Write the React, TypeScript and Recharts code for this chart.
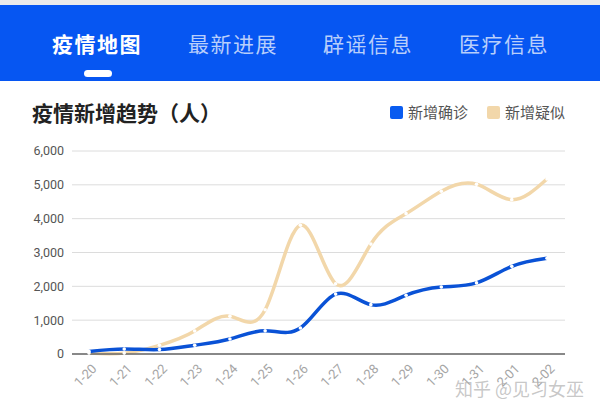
import { LineChart, Line, XAxis, YAxis, CartesianGrid } from "recharts";

const dates = ["1-20", "1-21", "1-22", "1-23", "1-24", "1-25", "1-26", "1-27", "1-28", "1-29", "1-30", "1-31", "2-01", "2-02"];
const confirmed = [77, 149, 131, 259, 444, 688, 769, 1771, 1459, 1737, 1982, 2102, 2590, 2829];
const suspected = [27, 26, 257, 680, 1118, 1309, 3806, 2077, 3248, 4148, 4812, 5019, 4562, 5173];
const yTicks = [0, 1000, 2000, 3000, 4000, 5000, 6000];
const tabs = ["疫情地图", "最新进展", "辟谣信息", "医疗信息"];

const BLUE = "#0a52d6";
const BEIGE = "#f2d7aa";
const FONT = 'Roboto, "Noto Sans CJK SC", sans-serif';
const CJK = '"Noto Sans CJK SC", sans-serif';

const data = dates.map((d, i) => ({ date: d, confirmed: confirmed[i], suspected: suspected[i] }));

// rotated date labels, ending just right of the tick
function DateTick({ x, y, payload }: any) {
  return (
    <g transform={`translate(${x + 5},${y + 4})`}>
      <text textAnchor="end" fill="#a5a5a5" fontSize={13} fontFamily={FONT} transform="rotate(-45)" dy={5}>
        {payload.value}
      </text>
    </g>
  );
}

export default function App() {
  const tabX = [52, 188, 323, 459];
  return (
    <div style={{ position: "absolute", left: 0, top: 0, width: 600, height: 420, background: "#fff", overflow: "hidden", fontFamily: FONT }}>
      <div style={{ position: "absolute", left: 0, top: 0, width: 600, height: 5, background: "#ebebeb" }} />
      <div style={{ position: "absolute", left: 0, top: 5, width: 600, height: 76, background: "#0656f2" }}>
        {tabs.map((t, i) => (
          <div
            key={t}
            style={{
              position: "absolute",
              left: tabX[i],
              top: 24,
              fontSize: 21,
              lineHeight: "28px",
              fontWeight: i === 0 ? 700 : 400,
              color: i === 0 ? "#fff" : "rgba(255,255,255,0.72)",
              fontFamily: CJK,
              letterSpacing: 1.5,
            }}
          >
            {t}
          </div>
        ))}
        <div style={{ position: "absolute", left: 84, top: 65, width: 28, height: 7, borderRadius: 4, background: "#fff" }} />
      </div>
      <div
        style={{
          position: "absolute",
          left: 32,
          top: 98,
          fontSize: 21,
          lineHeight: "28px",
          fontWeight: 700,
          color: "#222",
          fontFamily: CJK,
        }}
      >
        疫情新增趋势（人）
      </div>
      <div style={{ position: "absolute", left: 390, top: 106, width: 13, height: 13, borderRadius: 2, background: "#0a5cf0" }} />
      <div style={{ position: "absolute", left: 408, top: 102, fontSize: 15, lineHeight: "20px", color: "#555", fontFamily: CJK }}>
        新增确诊
      </div>
      <div style={{ position: "absolute", left: 487, top: 106, width: 13, height: 13, borderRadius: 2, background: BEIGE }} />
      <div style={{ position: "absolute", left: 505, top: 102, fontSize: 15, lineHeight: "20px", color: "#555", fontFamily: CJK }}>
        新增疑似
      </div>
      <div style={{ position: "absolute", left: 0, top: 0 }}>
        <LineChart width={600} height={420} data={data} margin={{ top: 151, right: 35, left: 12, bottom: 26 }}>
          <CartesianGrid horizontal vertical={false} stroke="#dcdcdc" />
          <XAxis
            dataKey="date"
            axisLine={{ stroke: "#666", strokeWidth: 1.5 }}
            tickLine={false}
            height={40}
            interval={0}
            padding={{ left: 17, right: 18 }}
            tick={<DateTick />}
          />
          <YAxis
            domain={[0, 6000]}
            ticks={yTicks}
            width={60}
            axisLine={false}
            tickLine={false}
            tick={{ fill: "#555", fontSize: 12.5, fontFamily: FONT }}
            tickFormatter={(v: number) => v.toLocaleString("en-US")}
          />
          <Line
            type="natural"
            dataKey="suspected"
            stroke={BEIGE}
            strokeWidth={3.5}
            dot={{ r: 1.8, fill: "#fff", stroke: "#fff", strokeWidth: 0 }}
            isAnimationActive={false}
          />
          <Line
            type="natural"
            dataKey="confirmed"
            stroke={BLUE}
            strokeWidth={3.5}
            dot={{ r: 1.8, fill: "#fff", stroke: "#fff", strokeWidth: 0 }}
            isAnimationActive={false}
          />
        </LineChart>
      </div>
      <div
        style={{
          position: "absolute",
          left: 455,
          top: 376,
          fontSize: 18,
          lineHeight: "24px",
          color: "rgba(175,175,175,0.7)",
          fontFamily: CJK,
        }}
      >
        知乎 @见习女巫
      </div>
    </div>
  );
}
